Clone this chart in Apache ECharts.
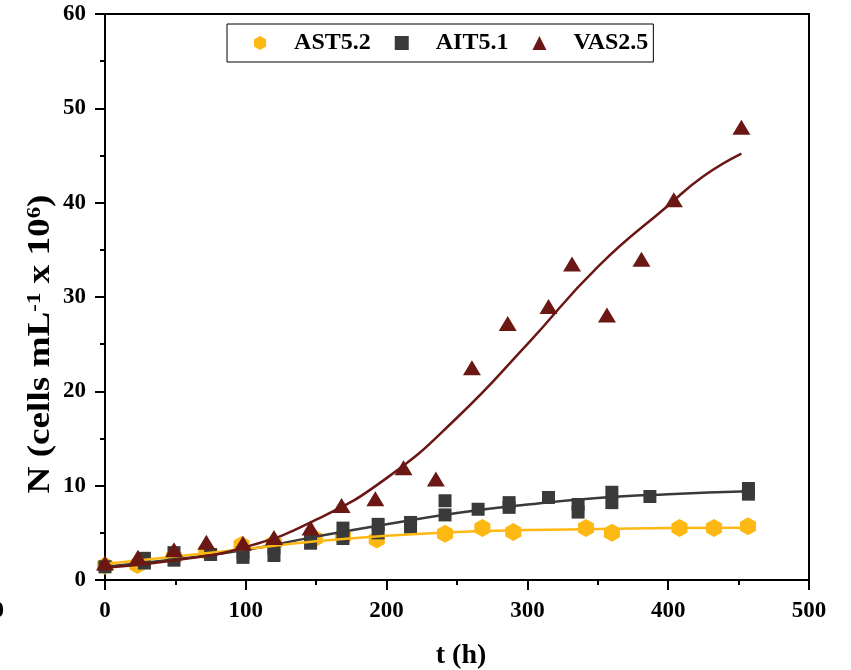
<!DOCTYPE html>
<html>
<head>
<meta charset="utf-8">
<script src="https://cdn.jsdelivr.net/npm/echarts@6/dist/echarts.min.js"></script>
<style>html,body{margin:0;padding:0;background:#fff}#c{width:851px;height:670px}</style>
</head>
<body>
<div id="c"></div>
<script>
// ---- data ----
const tAST = [0, 23, 49, 72, 97, 120, 149, 169, 193, 241.5, 268, 290, 341.6, 360, 408, 432.5, 456.7];
const nAST = [1.5, 1.6, 2.4, 3.0, 3.7, 3.9, 4.4, 4.6, 4.3, 4.9, 5.5, 5.1, 5.5, 5.0, 5.5, 5.5, 5.7];

const tAIT = [0, 28, 28, 49, 49, 75, 98, 98, 120, 120, 146, 146, 169, 169, 194, 194, 217, 217, 241.5, 241.5, 265, 287, 287, 315, 336, 336, 360, 360, 387, 457, 457];
const nAIT = [1.4, 1.8, 2.3, 2.1, 2.9, 2.7, 2.4, 2.9, 2.6, 3.4, 3.9, 4.5, 4.4, 5.5, 5.0, 5.9, 5.6, 6.1, 6.9, 8.4, 7.5, 7.7, 8.2, 8.75, 7.2, 8.0, 8.2, 9.3, 8.85, 9.1, 9.7];

const tVAS = [0, 23.4, 49, 72, 98, 120, 146, 168, 192, 212, 235, 260.6, 286, 315, 331.7, 356.5, 381, 404, 452];
const nVAS = [1.8, 2.4, 3.2, 4.0, 3.9, 4.5, 5.5, 7.9, 8.6, 11.9, 10.7, 22.5, 27.2, 29.0, 33.5, 28.1, 34.0, 40.3, 48.0];

// fitted curves
const tFitAST = [0, 50, 100, 150, 200, 250, 300, 350, 400, 457];
const nFitAST = [1.7, 2.5, 3.3, 4.1, 4.7, 5.1, 5.3, 5.4, 5.5, 5.55];
const tFitAIT = [0, 50, 100, 150, 200, 250, 300, 350, 400, 457];
const nFitAIT = [1.4, 2.2, 3.2, 4.6, 5.9, 7.1, 8.0, 8.7, 9.1, 9.4];
const tFitVAS = [0, 50, 100, 150, 200, 250, 300, 350, 400, 425, 452];
const nFitVAS = [1.3, 2.1, 3.5, 6.4, 10.8, 17.2, 25.0, 33.2, 39.7, 42.8, 45.2];

const xTicks = [0, 100, 200, 300, 400, 500];
const yTicks = [0, 10, 20, 30, 40, 50, 60];
const seriesNames = ['AST5.2', 'AIT5.1', 'VAS2.5'];

// ---- build ----
const pair = (ts, ns) => ts.map((t, i) => [t, ns[i]]);
const FONT = 'Liberation Serif';
const cY = '#FDB813', cG = '#3A3A3A', cR = '#6B1814';
const hex = 'path://M0,-1L0.866,-0.5L0.866,0.5L0,1L-0.866,0.5L-0.866,-0.5Z';

const chart = echarts.init(document.getElementById('c'), null, {renderer: 'canvas'});
const axisCommon = {
  type: 'value',
  axisLine: {show: true, lineStyle: {color: '#000', width: 2}},
  axisTick: {show: true, inside: false, length: 10, lineStyle: {color: '#000', width: 2}},
  minorTick: {show: true, splitNumber: 2, length: 5, lineStyle: {color: '#000', width: 2}},
  splitLine: {show: false},
  minorSplitLine: {show: false},
  axisLabel: {color: '#000', fontFamily: FONT, fontWeight: 'bold', fontSize: 23}
};
chart.setOption({
  animation: false,
  backgroundColor: '#fff',
  grid: {left: 105, top: 14, right: 42, bottom: 90, show: true, borderColor: '#000', borderWidth: 2},
  xAxis: Object.assign({}, axisCommon, {
    min: xTicks[0], max: xTicks[xTicks.length - 1], interval: xTicks[1] - xTicks[0],
    axisLabel: Object.assign({}, axisCommon.axisLabel, {margin: 20})
  }),
  yAxis: Object.assign({}, axisCommon, {
    min: yTicks[0], max: yTicks[yTicks.length - 1], interval: yTicks[1] - yTicks[0],
    axisLabel: Object.assign({}, axisCommon.axisLabel, {margin: 19})
  }),
  legend: {
    data: seriesNames,
    left: 227, top: 24,
    itemWidth: 14, itemHeight: 14, itemGap: 24,
    padding: [7, 5, 7, 27],
    borderColor: '#000', borderWidth: 1,
    textStyle: {fontFamily: FONT, fontWeight: 'bold', fontSize: 24, color: '#000', padding: [0, 0, 0, 22]}
  },
  graphic: [
    {type: 'text', x: 41, y: 344, rotation: Math.PI / 2, scaleX: 1.2,
      style: {text: '{a|N (cells mL}{b|-1}{a| x 10}{b|6}{a|)}', align: 'center', verticalAlign: 'middle',
        rich: {
          a: {fontFamily: FONT, fontWeight: 'bold', fontSize: 31, fill: '#000', color: '#000'},
          b: {fontFamily: FONT, fontWeight: 'bold', fontSize: 19, fill: '#000', color: '#000', verticalAlign: 'top'}
        }}},
    {type: 'text', x: 461, y: 656,
      style: {text: 't (h)', fontFamily: FONT, fontWeight: 'bold', fontSize: 28, fill: '#000', align: 'center', verticalAlign: 'middle'}},
    {type: 'text', x: 4, y: 611,
      style: {text: '0', fontFamily: FONT, fontWeight: 'bold', fontSize: 23, fill: '#000', align: 'right', verticalAlign: 'middle'}}
  ],
  series: [
    {name: 'AST5.2', type: 'scatter', data: pair(tAST, nAST), symbol: hex, symbolSize: [16, 18], itemStyle: {color: cY, opacity: 1}, z: 2},
    {name: 'AIT5.1', type: 'scatter', data: pair(tAIT, nAIT), symbol: 'rect', symbolSize: 13, itemStyle: {color: cG, opacity: 1}, z: 3},
    {name: 'AIT5.1 fit', type: 'line', data: pair(tFitAIT, nFitAIT), smooth: true, showSymbol: false, symbol: 'none', lineStyle: {color: cG, width: 2.5}, z: 4},
    {name: 'AST5.2 fit', type: 'line', data: pair(tFitAST, nFitAST), smooth: true, showSymbol: false, symbol: 'none', lineStyle: {color: cY, width: 2.5}, z: 4},
    {name: 'VAS2.5', type: 'scatter', data: pair(tVAS, nVAS), symbol: 'triangle', symbolSize: [18, 15], itemStyle: {color: cR, opacity: 1}, z: 5},
    {name: 'VAS2.5 fit', type: 'line', data: pair(tFitVAS, nFitVAS), smooth: true, showSymbol: false, symbol: 'none', lineStyle: {color: cR, width: 2.5}, z: 6}
  ]
});
</script>
</body>
</html>
